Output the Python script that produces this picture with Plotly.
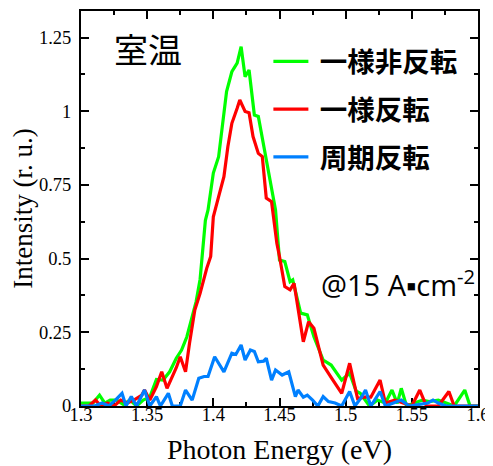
import plotly.graph_objects as go

# ---- data ----
green_x = [1.300, 1.305, 1.309, 1.314, 1.318, 1.322, 1.327, 1.332, 1.337, 1.342, 1.347, 1.352,
           1.357, 1.362, 1.367, 1.372, 1.376, 1.380, 1.384, 1.387, 1.390, 1.392, 1.394, 1.396,
           1.400, 1.404, 1.407, 1.410, 1.414, 1.418, 1.421, 1.424, 1.427, 1.431, 1.434, 1.437,
           1.440, 1.443, 1.447, 1.450, 1.454, 1.458, 1.460, 1.466, 1.471, 1.476, 1.483, 1.489,
           1.497, 1.503, 1.508, 1.511, 1.518, 1.524, 1.530, 1.535, 1.539, 1.542, 1.546, 1.552,
           1.558, 1.563, 1.570, 1.576, 1.582, 1.590, 1.594, 1.600]
green_y = [0.01, 0.01, 0.01, 0.037, 0.01, 0.02, 0.02, 0.005, 0.02, 0.0, 0.02, 0.03,
           0.09, 0.088, 0.116, 0.162, 0.19, 0.235, 0.30, 0.354, 0.43, 0.52, 0.63, 0.665,
           0.79, 0.846, 0.95, 1.067, 1.134, 1.163, 1.219, 1.117, 1.14, 0.987, 0.982, 0.91,
           0.835, 0.756, 0.665, 0.495, 0.49, 0.422, 0.428, 0.315, 0.309, 0.235, 0.156, 0.139,
           0.088, 0.111, 0.05, 0.043, 0.0, 0.02, 0.01, 0.054, 0.009, 0.06, 0.0, 0.01,
           0.02, 0.015, 0.02, 0.01, 0.0, 0.054, 0.0, 0.0]

red_x = [1.300, 1.306, 1.311, 1.315, 1.320, 1.325, 1.330, 1.335, 1.340, 1.343, 1.346, 1.348,
         1.352, 1.357, 1.361, 1.365, 1.369, 1.372, 1.375, 1.379, 1.382, 1.386, 1.390, 1.395,
         1.398, 1.400, 1.404, 1.408, 1.411, 1.414, 1.418, 1.420, 1.424, 1.427, 1.430, 1.434,
         1.437, 1.440, 1.444, 1.448, 1.450, 1.454, 1.458, 1.461, 1.468, 1.472, 1.476, 1.483,
         1.490, 1.497, 1.503, 1.509, 1.514, 1.519, 1.526, 1.530, 1.537, 1.543, 1.550, 1.556,
         1.561, 1.570, 1.578, 1.582, 1.600]
red_y = [0.0, 0.0, 0.02, 0.0, 0.01, 0.0, 0.02, 0.01, 0.02, 0.03, 0.037, 0.054,
         0.02, 0.066, 0.116, 0.06, 0.10, 0.13, 0.167, 0.116, 0.213, 0.326, 0.382, 0.467,
         0.507, 0.642, 0.71, 0.778, 0.88, 0.959, 1.01, 1.038, 0.999, 0.995, 0.914, 0.857,
         0.846, 0.705, 0.693, 0.552, 0.507, 0.405, 0.394, 0.416, 0.218, 0.286, 0.264, 0.139,
         0.09, 0.043, 0.145, 0.025, 0.03, 0.03, 0.088, 0.01, 0.02, 0.01, 0.0, 0.054,
         0.0, 0.0, 0.049, 0.0, 0.0]

blue_x = [1.300, 1.305, 1.310, 1.316, 1.321, 1.326, 1.331, 1.334, 1.338, 1.342, 1.345, 1.348,
          1.352, 1.357, 1.360, 1.366, 1.369, 1.375, 1.379, 1.384, 1.389, 1.393, 1.396, 1.401,
          1.408, 1.414, 1.417, 1.421, 1.424, 1.428, 1.431, 1.434, 1.438, 1.440, 1.444, 1.447,
          1.452, 1.457, 1.462, 1.464, 1.468, 1.471, 1.475, 1.479, 1.483, 1.487, 1.492, 1.497,
          1.503, 1.507, 1.512, 1.515, 1.519, 1.526, 1.530, 1.536, 1.542, 1.548, 1.556, 1.562,
          1.566, 1.570, 1.576, 1.600]
blue_y = [0.0, 0.0, 0.0, 0.01, 0.0, 0.02, 0.043, 0.0, 0.032, 0.0, 0.03, 0.054,
          0.0, 0.032, 0.0, 0.043, 0.0, 0.0, 0.054, 0.02, 0.094, 0.10, 0.10, 0.167,
          0.116, 0.179, 0.175, 0.207, 0.156, 0.19, 0.185, 0.15, 0.152, 0.162, 0.088, 0.122,
          0.105, 0.116, 0.032, 0.054, 0.03, 0.037, 0.02, 0.0, 0.032, 0.015, 0.01, 0.0,
          0.049, 0.0, 0.03, 0.054, 0.0, 0.049, 0.0, 0.01, 0.02, 0.0, 0.005, 0.01,
          0.02, 0.01, 0.0, 0.0]

series_names = ["一様非反転", "一様反転", "周期反転"]
series_colors = ["#00ff00", "#ff0000", "#0080ff"]

x_ticks = [1.3, 1.35, 1.4, 1.45, 1.5, 1.55, 1.6]
y_ticks = [0, 0.25, 0.5, 0.75, 1, 1.25]

# ---- figure ----
fig = go.Figure()
for i, (xs, ys) in enumerate([(green_x, green_y), (red_x, red_y), (blue_x, blue_y)]):
    fig.add_trace(go.Scatter(
        x=xs, y=ys, mode="lines", name="\u00a0" + series_names[i],
        legendgroup=f"g{i}",
        line=dict(color=series_colors[i], width=3.2),
    ))

serif = "Liberation Serif, Times New Roman, serif"
axis_common = dict(
    showline=True, linecolor="black", linewidth=2,
    ticks="inside", ticklen=8, tickwidth=1.5, tickcolor="black",
    mirror="ticks", showgrid=False, zeroline=False,
    tickfont=dict(family=serif, size=18.5, color="black"),
    layer="below traces",
)

fig.update_xaxes(
    range=[1.3, 1.6], tickvals=x_ticks, ticktext=[f"{v:g}" for v in x_ticks],
    minor=dict(ticks="inside", ticklen=4, tickwidth=1.5, tickcolor="black", dtick=0.025, tick0=1.3),
    ticklabelstandoff=-9, automargin=False,
    title=dict(text="Photon Energy (eV)", font=dict(family=serif, size=28, color="black")),
    **axis_common,
)
fig.update_yaxes(
    range=[0, 1.34], tickvals=y_ticks, ticktext=[f"{v:g}" for v in y_ticks],
    minor=dict(ticks="inside", ticklen=4, tickwidth=1.5, tickcolor="black", dtick=0.125, tick0=0),
    ticklabelstandoff=4, automargin=True,
    title=dict(text="Intensity (r. u.)", font=dict(family=serif, size=27, color="black"), standoff=4),
    **axis_common,
)

fig.add_annotation(
    text="室温", xref="paper", yref="paper", x=0.169, y=0.904,
    xanchor="center", yanchor="middle",
    showarrow=False, font=dict(family="Noto Sans CJK JP", size=34, color="black"),
)
fig.add_annotation(
    text="@15 A▪cm<sup>-2</sup>", xref="paper", yref="paper", x=0.997, y=0.311,
    xanchor="right", yanchor="middle",
    showarrow=False, font=dict(family="Open Sans", size=29, color="black"),
)

# the page body adds an 8 px offset, so the figure is 8 px smaller and margins shifted
fig.update_layout(
    width=485, height=458,
    margin=dict(l=73, r=15, t=3, b=60, autoexpand=False),
    paper_bgcolor="white", plot_bgcolor="white",
    showlegend=True,
    legend=dict(
        x=0.472, y=0.934, xanchor="left", yanchor="top",
        bgcolor="rgba(0,0,0,0)", borderwidth=0,
        font=dict(family="Noto Sans CJK JP", size=27.5, color="black", weight="bold"),
        tracegroupgap=9, traceorder="grouped", itemwidth=35,
    ),
)

fig.write_html("out.html")
